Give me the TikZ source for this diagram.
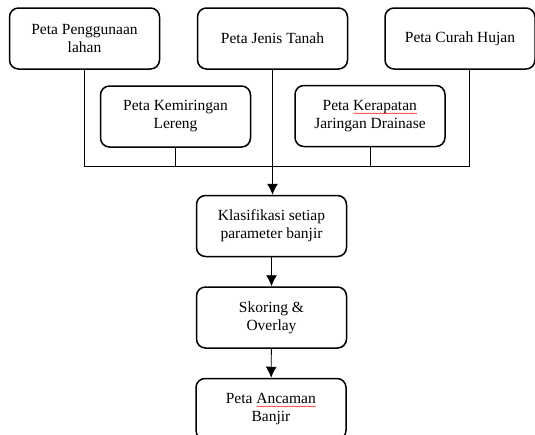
\documentclass[tikz,border=0pt]{standalone}
\usepackage{fontspec}
\setmainfont{Liberation Serif}
\usetikzlibrary{arrows.meta,decorations.pathmorphing}
\newsavebox{\spellbox}
\newcommand{\spellmark}[1]{\sbox{\spellbox}{#1}\rlap{\usebox{\spellbox}}\tikz[baseline=0pt,x=1pt,y=1pt,sharp corners]\draw[red,line width=0.4pt,decorate,decoration={snake,amplitude=0.5pt,segment length=2.4pt}] (0pt,-3pt) -- (\wd\spellbox,-3pt);}
\tikzstyle{box}=[draw,rounded corners=9pt,line width=1.5pt,minimum width=150pt,minimum height=61pt,align=center,inner sep=2pt,font=\fontsize{15.5}{18}\selectfont]
\tikzstyle{edge} = [draw,line width=0.9pt,-]
\tikzstyle{flow edge} = [draw,line width=0.9pt,-{Latex[length=11pt,width=11pt]}]

\begin{document}
\begin{tikzpicture}[x=1pt,y=-1pt]
    \clip (0,0) rectangle (535,434);
    \foreach \pos/\name/\txt in {{(84.5,38.5)/lahan/Peta Penggunaan\\lahan}, {(272.5,38.5)/tanah/Peta Jenis Tanah},
                                 {(460,38.5)/hujan/Peta Curah Hujan}, {(175.5,116.5)/lereng/Peta Kemiringan\\Lereng},
                                 {(370,116)/drainase/Peta \spellmark{Kerapatan}\\Jaringan Drainase},
                                 {(271.5,226)/klas/Klasifikasi setiap\\parameter banjir},
                                 {(271.5,317.5)/skor/Skoring \&\\Overlay},
                                 {(271,409)/ancam/Peta \spellmark{Ancaman}\\Banjir}}
        \node[box] (\name) at \pos {\txt};

    \coordinate (bus) at (272.5,166);
    \foreach \source in {lahan, lereng, drainase}
        \path[edge] (\source.south) |- (bus);
    \path[edge] ([xshift=9pt]hujan.south) |- (bus);

    \path[flow edge] (tanah.south) -- (tanah.south |- klas.north);
    \foreach \source/\dest in {klas/skor, skor/ancam}
        \path[flow edge] (\source) -- (\dest);
\end{tikzpicture}
\end{document}
